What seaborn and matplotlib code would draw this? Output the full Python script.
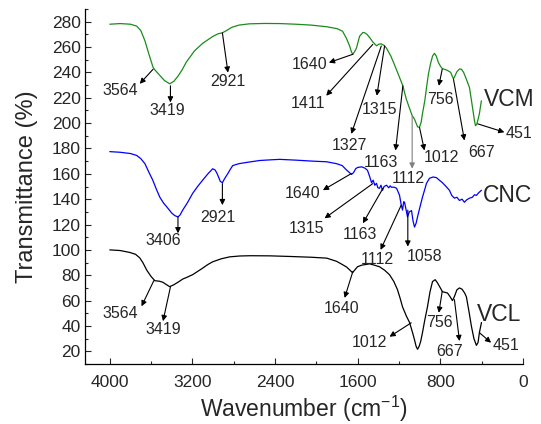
import matplotlib
matplotlib.use("Agg")
import matplotlib.pyplot as plt
import seaborn as sns
import pandas as pd
from matplotlib.ticker import MultipleLocator

# ---------------- data ----------------
vcm_wn = [4000, 3900, 3800, 3740, 3700, 3660, 3620, 3581, 3564, 3520, 3470, 3419, 3380, 3340, 3300,
          3260, 3180, 3100, 3000, 2950, 2910, 2870, 2820, 2750, 2650, 2500, 2350, 2200, 2050, 1900,
          1800, 1747, 1710, 1679, 1660, 1647, 1625, 1611, 1582, 1550, 1534, 1510, 1480, 1454, 1418,
          1395, 1372, 1340, 1321, 1280, 1244, 1195, 1163, 1130, 1100, 1073, 1050, 1020, 1002, 985,
          973, 950, 934, 915, 896, 875, 857, 840, 820, 800, 782, 760, 730, 700, 680, 673, 660, 640,
          615, 596, 575, 550, 518, 490, 470, 460, 448, 435, 422, 403]
vcm_t = [278, 278.5, 278, 276.5, 273, 265, 254, 244, 242, 238, 233.5, 231, 233, 237, 242,
         248, 257, 263, 268.5, 270.5, 271.2, 273, 275.5, 277.3, 278.3, 278.6, 278.5, 278, 277.3, 276,
         274.5, 272.5, 267, 261, 256, 254.3, 257, 259.5, 268.5, 271.5, 271.3, 270, 267, 264, 261,
         262.3, 262.5, 261, 259, 253, 246, 236, 229.4, 219, 212, 206, 203, 197, 196.7, 201,
         207.5, 218, 228, 239, 246.6, 253, 255, 253, 248, 245, 243, 242.5, 241.5, 240, 236, 235, 237, 240.5,
         242.7, 242.5, 240, 235, 228, 213, 202, 198, 199, 203, 207.5, 217.6]

cnc_wn = [4000, 3900, 3800, 3740, 3700, 3660, 3620, 3584, 3550, 3516, 3480, 3449, 3400, 3370, 3340,
          3320, 3294, 3250, 3197, 3150, 3101, 3050, 3004, 2980, 2960, 2930, 2910, 2890, 2859, 2830,
          2810, 2750, 2675, 2550, 2450, 2356, 2200, 2037, 1900, 1805, 1750, 1708, 1680, 1660, 1640,
          1620, 1602, 1563, 1530, 1505, 1485, 1466, 1450, 1435, 1418, 1405, 1389, 1375, 1360, 1345,
          1321, 1300, 1285, 1273, 1250, 1224, 1210, 1195, 1180, 1166, 1155, 1147, 1135, 1118, 1100,
          1079, 1065, 1050, 1035, 1021, 1000, 973, 950, 934, 905, 870, 838, 810, 780, 745, 712, 690,
          664, 640, 615, 590, 567, 545, 518, 490, 470, 451, 430, 402]
cnc_t = [177.5, 177, 176, 174.5, 172, 168, 161, 155, 148, 141.6, 137, 134, 129, 127, 126,
         127.5, 131.4, 137, 144.7, 150, 155, 160, 164, 163, 160, 154, 153, 156, 160, 164,
         166.5, 168, 169, 170.5, 171, 171.4, 170.8, 170, 169.5, 168, 166.5, 163, 161, 159.5, 161,
         164, 165, 165.5, 164.5, 162.7, 158, 153, 155, 151, 152.5, 149, 148.6, 151, 147, 150,
         151, 149, 150.5, 149.4, 149.5, 148.6, 146, 143, 136, 131.4, 138, 137.6, 133, 126, 130,
         131, 123, 118, 121, 126, 133, 141.6, 148, 152.5, 156.5, 157.5, 157, 155, 153, 150, 147, 143,
         140.8, 141.5, 139, 140, 137.6, 139.5, 140.8, 141.5, 143.5, 143, 145, 147]

vcl_wn = [4000, 3900, 3807, 3750, 3710, 3680, 3642, 3600, 3564, 3520, 3487, 3450, 3420, 3380, 3330,
          3294, 3250, 3197, 3150, 3101, 3050, 3004, 2920, 2840, 2740, 2640, 2450, 2250, 2050, 1900,
          1805, 1750, 1708, 1675, 1650, 1625, 1602, 1560, 1520, 1485, 1440, 1389, 1340, 1292, 1250,
          1215, 1190, 1166, 1130, 1098, 1070, 1050, 1035, 1021, 1005, 990, 973, 950, 925, 900, 876,
          850, 828, 800, 780, 755, 731, 705, 683, 665, 640, 615, 590, 565, 548, 520, 499, 475, 451,
          435, 422, 402]
vcl_t = [100, 99.5, 98, 96.5, 93.7, 90, 84, 79, 75.7, 75.3, 74.5, 72.5, 71, 72.5, 75,
         77, 78.5, 80.5, 83, 85.6, 88.5, 90.6, 93, 94.5, 95.2, 95.4, 95.3, 94.8, 94.2, 93.5,
         91, 88.5, 86.5, 84, 82, 84.5, 86.7, 88, 88.5, 89, 88, 86.7, 84, 80.4, 75,
         68.6, 62, 55, 48, 42.7, 35, 29, 24, 21.6, 24, 28, 34.8, 45, 55, 67, 75,
         76.5, 74, 70, 67, 66.5, 66, 63, 60, 63, 68.5, 70, 69, 66, 63, 50, 39.6, 30, 24.7,
         27, 34.8, 42.7]

series_names = ["VCM", "CNC", "VCL"]
series_colors = ["#1a8c1a", "#0000ff", "#000000"]

x_ticks = [4000, 3200, 2400, 1600, 800, 0]
y_ticks = list(range(20, 281, 20))

# annotations: label, curve point, arrow tip, text centre, colour
annotations = [
    ("3564", (3581, 242.5), (3710, 231), (3903, 225.5), "black"),
    ("3419", (3413, 229.4), (3413, 216.3), (3439, 209.8), "black"),
    ("2921", (2910, 271.2), (2856, 239.8), (2859, 232.8), "black"),
    ("1640", (1647, 254.3), (1879, 247.7), (2066, 246.4), "black"),
    ("1411", (1454, 262.1), (1905, 221.6), (2085, 215.3), "black"),
    ("1327", (1372, 260.8), (1662, 191.5), (1679, 182.4), "black"),
    ("1315", (1340, 260.8), (1415, 221.6), (1389, 211.1), "black"),
    ("1163", (1163, 229.4), (1234, 178.4), (1372, 169.3), "black"),
    ("1112", (1073, 205.9), (1073, 164.1), (1115, 156.2), "#808080"),
    ("1012", (1002, 196.7), (954, 178.4), (792, 173.2), "black"),
    ("756", (782, 242.5), (815, 229.4), (802, 219.0), "black"),
    ("667", (673, 234.7), (567, 186.3), (405, 177.1), "black"),
    ("451", (438, 199.4), (180, 192.8), (35, 192.0), "black"),
    ("3406", (3340, 126.1), (3340, 113.1), (3478, 107.8), "black"),
    ("2921", (2910, 152.3), (2910, 135.3), (2953, 125.6), "black"),
    ("1640", (1662, 160.2), (1937, 147.1), (2131, 144.5), "black"),
    ("1315", (1454, 152.3), (1921, 124.9), (2098, 117.0), "black"),
    ("1163", (1357, 148.4), (1550, 121.0), (1582, 111.8), "black"),
    ("1112", (1179, 135.3), (1379, 100.0), (1415, 92.7), "black"),
    ("1058", (1115, 131.4), (1115, 102.6), (954, 94.7), "black"),
    ("3564", (3574, 75.7), (3693, 55.5), (3897, 49.8), "black"),
    ("3419", (3413, 70.7), (3485, 43.8), (3478, 37.3), "black"),
    ("1640", (1647, 83.0), (1727, 62.1), (1760, 53.5), "black"),
    ("1012", (1082, 42.5), (1292, 31.5), (1486, 26.8), "black"),
    ("756", (782, 67.3), (815, 50.4), (809, 42.5), "black"),
    ("667", (664, 60.8), (615, 28.1), (712, 19.5), "black"),
    ("451", (422, 34.7), (309, 26.8), (164, 24.2), "black"),
]
series_labels = [("VCM", 132, 219.0), ("CNC", 148, 143.1), ("VCL", 228, 49.0)]

# ---------------- plotting ----------------
sns.set_style("ticks")
plt.rcParams["font.family"] = ["Liberation Sans", "DejaVu Sans"]
plt.rcParams["mathtext.fontset"] = "custom"
plt.rcParams["mathtext.rm"] = "Liberation Sans"
plt.rcParams["mathtext.default"] = "regular"

df = pd.concat([
    pd.DataFrame({"wn": vcm_wn, "T": vcm_t, "sample": "VCM"}),
    pd.DataFrame({"wn": cnc_wn, "T": cnc_t, "sample": "CNC"}),
    pd.DataFrame({"wn": vcl_wn, "T": vcl_t, "sample": "VCL"}),
])

fig = plt.figure(figsize=(5.41, 4.24), dpi=100)
ax = fig.add_axes([85 / 541, 1 - 364 / 424, (523 - 85) / 541, (364 - 9) / 424])

sns.lineplot(data=df, x="wn", y="T", hue="sample", hue_order=series_names,
             palette=dict(zip(series_names, series_colors)), sort=False,
             estimator=None, linewidth=0.9, legend=False, ax=ax)

ax.set_xlim(4240, 0)
ax.set_ylim(10, 290)
ax.set_xticks(x_ticks)
ax.set_yticks(y_ticks)
ax.xaxis.set_minor_locator(MultipleLocator(400))
ax.yaxis.set_minor_locator(MultipleLocator(10))
ax.tick_params(which="both", direction="in", labelsize=12.5, width=0.8)
ax.tick_params(which="major", length=4)
ax.tick_params(which="minor", length=2.5)
ax.tick_params(axis="x", pad=8)
ax.tick_params(axis="y", pad=3)
sns.despine(ax=ax)
for s in ["left", "bottom"]:
    ax.spines[s].set_linewidth(0.9)
    ax.spines[s].set_color("black")

ax.set_xlabel("Wavenumber (cm$^{-1}$)", fontsize=16.5, labelpad=3)
ax.set_ylabel("Transmittance (%)", fontsize=17, labelpad=10)

for label, start, tip, txt, col in annotations:
    ax.annotate("", xy=tip, xytext=start,
                arrowprops=dict(arrowstyle="-|>", color=col, lw=0.8,
                                mutation_scale=8, shrinkA=0, shrinkB=0),
                annotation_clip=False)
    ax.text(txt[0], txt[1], label, ha="center", va="center", fontsize=11.5,
            clip_on=False)

for name, xw, yt in series_labels:
    ax.text(xw, yt, name, ha="center", va="center", fontsize=16.5, clip_on=False)

fig.savefig("out.png", dpi=100)
